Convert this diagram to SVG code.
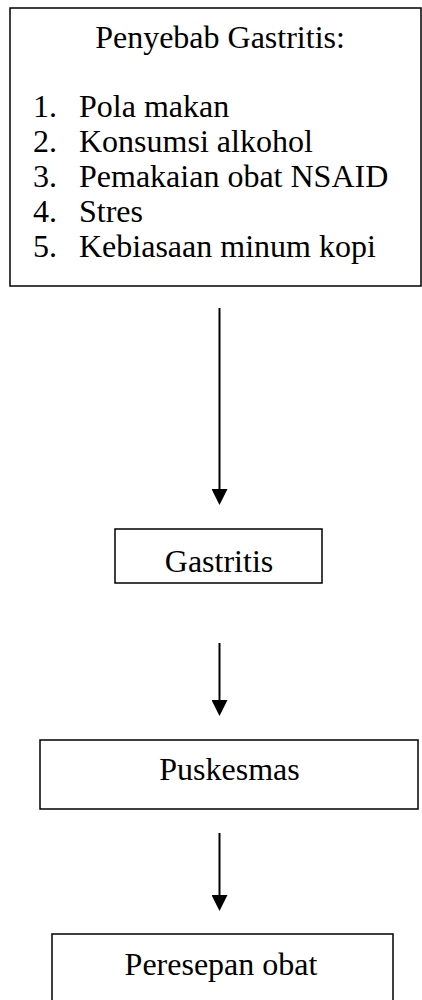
<svg xmlns="http://www.w3.org/2000/svg" width="422" height="1000" viewBox="0 0 422 1000">
<defs>
<style>
.box{fill:#fff;stroke:#000;stroke-width:1.5}
.t{font-family:"Liberation Serif","Times New Roman",serif;font-size:32px;fill:#000}
.c{text-anchor:middle}
.ln{stroke:#000;stroke-width:2;fill:none}
</style>
<marker id="ah" viewBox="0 0 16 16" refX="0" refY="8" markerWidth="16" markerHeight="16" markerUnits="userSpaceOnUse" orient="auto">
<path d="M0,0 L16,8 L0,16 Z" fill="#000"/>
</marker>
</defs>
<rect width="422" height="1000" fill="#fff"/>
<g id="penyebab">
<rect class="box" x="10" y="8" width="411" height="278"/>
<text class="t c" x="220" y="48">Penyebab Gastritis:</text>
<text class="t" x="33" y="117">1.</text><text class="t" x="79" y="117">Pola makan</text>
<text class="t" x="33" y="152">2.</text><text class="t" x="79" y="152">Konsumsi alkohol</text>
<text class="t" x="33" y="187">3.</text><text class="t" x="79" y="187">Pemakaian obat NSAID</text>
<text class="t" x="33" y="222">4.</text><text class="t" x="79" y="222">Stres</text>
<text class="t" x="33" y="257">5.</text><text class="t" x="79" y="257">Kebiasaan minum kopi</text>
</g>
<g id="gastritis">
<rect class="box" x="115" y="529" width="207" height="54"/>
<text class="t c" x="219" y="572">Gastritis</text>
</g>
<g id="puskesmas">
<rect class="box" x="40" y="740" width="378" height="69"/>
<text class="t c" x="229.5" y="780">Puskesmas</text>
</g>
<g id="peresepan">
<rect class="box" x="52" y="934" width="341" height="80"/>
<text class="t c" x="221" y="975">Peresepan obat</text>
</g>
<g id="connectors">
<line class="ln" x1="219.5" y1="308" x2="219.5" y2="489" marker-end="url(#ah)"/>
<line class="ln" x1="219.5" y1="643" x2="219.5" y2="700" marker-end="url(#ah)"/>
<line class="ln" x1="219.5" y1="833" x2="219.5" y2="895" marker-end="url(#ah)"/>
</g>
</svg>
